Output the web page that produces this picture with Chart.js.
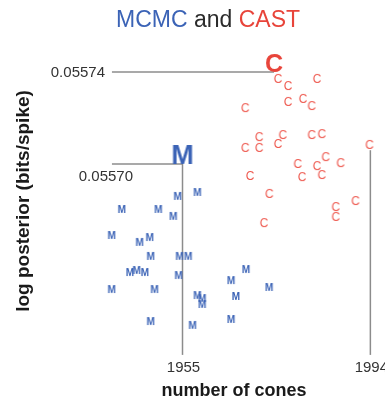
<!DOCTYPE html>
<html>
<head>
<meta charset="utf-8">
<script src="https://cdn.jsdelivr.net/npm/chart.js@4.4.1/dist/chart.umd.min.js"></script>
<style>
  html, body { margin:0; padding:0; background:#fff; }
  #wrap { width:385px; height:401px; }
</style>
</head>
<body>
<div id="wrap"><canvas id="chart" width="385" height="401"></canvas></div>
<script>
// number of cones / log posterior for each MCMC sample
const mcmcX = [1954.0,1958.1,1942.4,1950.0,1953.1,1940.3,1946.1,1948.2,1948.4,1954.4,1956.2,1944.1,1945.5,1947.2,
               1954.2,1940.3,1949.2,1948.4,1968.2,1965.1,1973.0,1958.1,1959.1,1959.1,1966.1,1965.1,1957.1];
const mcmcY = [0.0556857,0.0556874,0.0556800,0.0556800,0.0556770,0.0556687,0.0556657,0.0556678,0.0556596,0.0556596,
               0.0556596,0.0556526,0.0556535,0.0556526,0.0556513,0.0556452,0.0556452,0.0556313,0.0556539,0.0556491,
               0.0556461,0.0556426,0.0556413,0.0556387,0.0556422,0.0556322,0.0556296];
// CAST samples
const castX = [1974.8,1976.9,1982.9,1968.0,1976.9,1980.0,1981.8,1970.9,1975.8,1974.8,1981.8,1983.9,1968.0,1970.9,
               1993.8,1978.9,1984.7,1982.9,1987.8,1979.8,1983.9,1969.0,1973.0,1990.9,1986.8,1986.8,1971.9];
const castY = [0.0557370,0.0557339,0.0557370,0.0557243,0.0557270,0.0557283,0.0557252,0.0557117,0.0557126,0.0557087,
               0.0557126,0.0557130,0.0557070,0.0557070,0.0557083,0.0557000,0.0557030,0.0556991,0.0557004,0.0556943,
               0.0556952,0.0556948,0.0556870,0.0556839,0.0556813,0.0556770,0.0556743];
// best sample of each method
const bestMcmc = [1955, 0.05570];
const bestCast = [1974, 0.05574];

const xTicks = [1955, 1994];
const yTicks = [0.05570, 0.05574];
const yTickLabels = ['0.05570', '0.05574'];
const xRange = [1938, 1996];
const yRange = [0.055617, 0.055745];

// drop lines: vertical from the bottom at each x tick, horizontal from the label to each best point
const dropXTop = [0.05570, 0.055706];
const dropYFrom = 1940.35;
const dropYTo = [1955, 1974];

const BLUE = '#3b63b6', RED = '#ee5a50', GREY = '#8c8c8c', FONT = '"Liberation Sans", Arial, Helvetica, sans-serif';

function glyph(letter, font, color, w, h, bottomAnchored) {
  const c = document.createElement('canvas');
  c.width = w; c.height = bottomAnchored ? h * 2 : h;
  const g = c.getContext('2d');
  g.font = font; g.fillStyle = color; g.textAlign = 'center';
  if (bottomAnchored) { g.textBaseline = 'alphabetic'; g.fillText(letter, w / 2, h); }
  else { g.textBaseline = 'middle'; g.fillText(letter, w / 2, h / 2 + 0.5); }
  return c;
}

const mStyle = glyph('M', 'bold 10px ' + FONT, BLUE, 14, 14, false);
const cStyle = glyph('C', '12px ' + FONT, RED, 14, 14, false);
const bigM = glyph('M', 'bold 27px ' + FONT, BLUE, 30, 24, true);
const bigC = glyph('C', 'bold 25px ' + FONT, '#e8443a', 24, 24, true);

const pts = (xs, ys) => xs.map((x, i) => ({ x, y: ys[i] }));
const line = (a, b) => ({ type:'line', data:[a, b], borderColor:GREY, borderWidth:1.5, pointRadius:0, clip:false, order:2 });

const datasets = [
  line({x:xTicks[0], y:yRange[0]}, {x:xTicks[0], y:dropXTop[0]}),
  line({x:xTicks[1], y:yRange[0]}, {x:xTicks[1], y:dropXTop[1]}),
  line({x:dropYFrom, y:yTicks[0]}, {x:dropYTo[0], y:yTicks[0]}),
  line({x:dropYFrom, y:yTicks[1]}, {x:dropYTo[1], y:yTicks[1]}),
  { label:'MCMC', data:pts(mcmcX, mcmcY), pointStyle:mStyle, clip:false, order:1 },
  { label:'CAST', data:pts(castX, castY), pointStyle:cStyle, clip:false, order:1 },
  { label:'best MCMC', data:[{x:bestMcmc[0], y:bestMcmc[1]}], pointStyle:bigM, clip:false, order:0 },
  { label:'best CAST', data:[{x:bestCast[0], y:bestCast[1]}], pointStyle:bigC, clip:false, order:0 }
];

const textPlugin = {
  id:'texts',
  afterDraw(chart) {
    const ctx = chart.ctx, xs = chart.scales.x, ys = chart.scales.y;
    ctx.save();
    // title in three colours
    ctx.font = '23px ' + FONT; ctx.textBaseline = 'alphabetic'; ctx.textAlign = 'left';
    const parts = [['MCMC', BLUE], [' and ', '#2b2b2b'], ['CAST', '#e8443a']];
    const total = parts.reduce((s, p) => s + ctx.measureText(p[0]).width, 0);
    let tx = 208 - total / 2;
    parts.forEach(([t, col]) => { ctx.fillStyle = col; ctx.fillText(t, tx, 27); tx += ctx.measureText(t).width; });

    ctx.fillStyle = '#333';
    ctx.font = '15px ' + FONT;
    ctx.textBaseline = 'middle'; ctx.textAlign = 'right';
    ctx.fillText(yTickLabels[1], 105, ys.getPixelForValue(yTicks[1]) + 1);
    ctx.fillText(yTickLabels[0], 133, ys.getPixelForValue(yTicks[0]) + 13);
    ctx.textAlign = 'center';
    xTicks.forEach(v => ctx.fillText(String(v), xs.getPixelForValue(v) + 1, chart.chartArea.bottom + 13));

    ctx.fillStyle = '#1a1a1a';
    ctx.font = 'bold 18px ' + FONT;
    ctx.fillText('number of cones', 234, chart.chartArea.bottom + 36);
    ctx.font = 'bold 19px ' + FONT;
    ctx.translate(24, 201); ctx.rotate(-Math.PI / 2);
    ctx.fillText('log posterior (bits/spike)', 0, 0);
    ctx.restore();
  }
};

new Chart(document.getElementById('chart'), {
  type:'scatter',
  data:{ datasets },
  options:{
    responsive:false, animation:false,
    layout:{ padding:{ left:100.62, right:3.3, top:60.5, bottom:46.1 } },
    scales:{
      x:{ type:'linear', min:xRange[0], max:xRange[1], display:false },
      y:{ type:'linear', min:yRange[0], max:yRange[1], display:false }
    },
    plugins:{ legend:{ display:false }, title:{ display:false }, tooltip:{ enabled:false } }
  },
  plugins:[textPlugin]
});
</script>
</body>
</html>
